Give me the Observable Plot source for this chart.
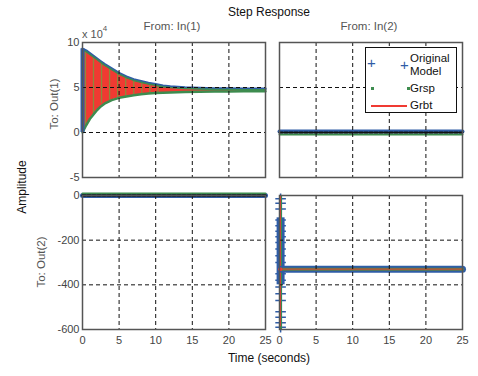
<!DOCTYPE html>
<html><head><meta charset="utf-8">
<script src="https://cdn.jsdelivr.net/npm/d3@7"></script>
<script src="https://cdn.jsdelivr.net/npm/@observablehq/plot@0.6"></script>
<style>
body{margin:0;background:#fff;}
#c{position:relative;width:478px;height:376px;overflow:hidden;font-family:"Liberation Sans",Arial,sans-serif;}
#c svg{position:absolute;left:0;top:0;overflow:visible;}
.t{position:absolute;white-space:nowrap;font-size:11px;color:#444;line-height:1;}
.rot{transform:translate(-50%,-50%) rotate(-90deg);}
.lg{position:absolute;left:365px;top:47px;width:90px;height:64px;border:1.5px solid #111;background:#fff;}
.lg span{position:absolute;white-space:nowrap;font-size:11.5px;color:#111;line-height:1;}
</style></head>
<body><div id="c"></div>
<script>
// ---------- data ----------
const timeTicks = [0, 5, 10, 15, 20, 25];
const gridTimes = [5, 10, 15, 20];
const yTicksTop = [-50000, 0, 50000, 100000];
const yTicksBottom = [-600, -400, -200, 0];

// Out(1) from In(1): envelope of the fast oscillation
const t11 = [0, 0.5, 1, 1.5, 2, 2.5, 3, 4, 5, 6, 7, 8, 9, 10, 11, 12, 14, 16, 18, 20, 22, 25];
const upper11 = [93000, 91000, 88000, 85000, 82000, 79000, 76000, 71000, 66000, 62000, 59000, 57000, 55000, 53500, 52000, 51000, 50000, 49500, 49000, 48800, 48500, 48500];
const lower11 = [0, 8000, 15000, 20000, 25000, 29000, 32000, 36000, 38500, 40000, 41500, 42500, 43200, 43800, 44200, 44500, 45000, 45200, 45500, 45600, 45700, 45800];
const spikeTimes11 = [0.4, 1.5, 2.6, 3.7, 4.8, 5.9, 7.0, 8.1, 9.2, 10.3];

// flat responses (Out(1) from In(2), Out(2) from In(1))
const tFlat = [0, 25];
const flat12 = [0, 0];
const flat21 = [0, 0];

// Out(2) from In(2)
const t22 = [0.3, 25];
const steady22 = [-330, -330];
const origSpan22 = [-598, -2];
const origCore22 = [-400, -100];
const grspSpan22 = [-600, 0];
const grbtSpan22 = [-588, -5];
const origPlus22 = [-15, -35, -60, -110, -135, -160, -185, -210, -240, -270, -300, -350, -380, -410, -440, -470, -520, -545, -570, -590];

const blue = "#2f5da6", green = "#3d8c4f", red = "#f03a32", olive = "#8c8a3c";

const root = document.getElementById("c");

function panel({box, yDomain, yTicks, yFmt, showX, showY, gridY, marks}) {
  const [l, t, r, b] = box;
  const all = [
    ...marks,
    Plot.gridX(gridTimes, {stroke: "#111", strokeOpacity: 1, strokeDasharray: "4,3"}),
    Plot.gridY(gridY, {stroke: "#111", strokeOpacity: 1, strokeDasharray: "4,3"}),
    Plot.frame({stroke: "#555", strokeWidth: 1.5})
  ];
  if (showX) all.push(Plot.axisX(timeTicks, {tickSize: 0, tickPadding: 7, fontSize: 11, fill: "#444", label: null}));
  if (showY) all.push(Plot.axisY(yTicks, {tickSize: 0, tickPadding: 3, tickFormat: yFmt, fontSize: 11, fill: "#444", label: null}));
  const svg = Plot.plot({
    width: 478, height: 376,
    marginLeft: l, marginRight: 478 - r, marginTop: t, marginBottom: 376 - b,
    x: {domain: [0, 25], label: null, ...(showX ? {} : {axis: null})},
    y: {domain: yDomain, label: null, ...(showY ? {} : {axis: null})},
    style: {background: "transparent", fontFamily: "Liberation Sans, Arial, sans-serif", fontSize: "11px", color: "#444"},
    marks: all
  });
  root.appendChild(svg);
}

const rows11 = t11.map((t, i) => ({t, lo: lower11[i], hi: upper11[i]}));
const envAt = (arr, x) => arr[Math.min(arr.length - 1, d3.bisectLeft(t11, x))];

// top-left
panel({
  box: [82, 42, 265, 177], yDomain: [-50000, 100000], yTicks: yTicksTop,
  yFmt: d => String(d / 10000), showX: false, showY: true, gridY: [0, 50000],
  marks: [
    Plot.areaY(rows11, {x: "t", y1: "lo", y2: "hi", fill: red}),
    Plot.ruleX(spikeTimes11, {x: d => d, y1: d => envAt(lower11, d), y2: d => envAt(upper11, d), stroke: olive, strokeWidth: 1.3}),
    Plot.line(rows11, {x: "t", y: "hi", stroke: blue, strokeWidth: 2.5}),
    Plot.line(rows11, {x: "t", y: "hi", stroke: green, strokeWidth: 1.5, dy: 1}),
    Plot.line(rows11, {x: "t", y: "lo", stroke: green, strokeWidth: 2.5}),
    Plot.ruleX([0], {y1: 0, y2: upper11[0], stroke: blue, strokeWidth: 4})
  ]
});

// top-right
const rows12 = tFlat.map((t, i) => ({t, v: flat12[i]}));
panel({
  box: [279, 42, 462, 177], yDomain: [-50000, 100000], yTicks: yTicksTop,
  showX: false, showY: false, gridY: [50000],
  marks: [
    Plot.line(rows12, {x: "t", y: "v", stroke: blue, strokeWidth: 4, dy: -1}),
    Plot.line(rows12, {x: "t", y: "v", stroke: green, strokeWidth: 2, dy: 2}),
    Plot.line(rows12, {x: "t", y: "v", stroke: "#111", strokeWidth: 2.2, strokeDasharray: "3,2"})
  ]
});

// bottom-left
const rows21 = tFlat.map((t, i) => ({t, v: flat21[i]}));
panel({
  box: [82, 195, 265, 329], yDomain: [-600, 0], yTicks: yTicksBottom,
  yFmt: d => String(d), showX: true, showY: true, gridY: [-400, -200],
  marks: [
    Plot.line(rows21, {x: "t", y: "v", stroke: blue, strokeWidth: 5}),
    Plot.line(rows21, {x: "t", y: "v", stroke: green, strokeWidth: 2, dy: -2}),
    Plot.line(rows21, {x: "t", y: "v", stroke: "#111", strokeWidth: 2.4, strokeDasharray: "3,2"})
  ]
});

// bottom-right
const steadyRows = t22.map((t, i) => ({t, v: steady22[i]}));
panel({
  box: [279, 195, 462, 329], yDomain: [-600, 0], yTicks: yTicksBottom,
  showX: true, showY: false, gridY: [-400, -200, 0],
  marks: [
    Plot.ruleX([0.15], {y1: origSpan22[0], y2: origSpan22[1], stroke: blue, strokeWidth: 3}),
    Plot.ruleX([0.15], {y1: origCore22[0], y2: origCore22[1], stroke: blue, strokeWidth: 8}),
    Plot.dot(origPlus22, {x: 0.15, y: d => d, symbol: "plus", r: 3.5, stroke: blue, strokeWidth: 1.5}),
    Plot.ruleX([0.2], {y1: grspSpan22[0], y2: grspSpan22[1], stroke: green, strokeWidth: 2}),
    Plot.ruleX([0.1], {y1: grbtSpan22[0], y2: grbtSpan22[1], stroke: red, strokeWidth: 1.5}),
    Plot.line(steadyRows, {x: "t", y: "v", stroke: blue, strokeWidth: 7}),
    Plot.line(steadyRows, {x: "t", y: "v", stroke: green, strokeWidth: 3}),
    Plot.line(steadyRows, {x: "t", y: "v", stroke: red, strokeWidth: 2, strokeOpacity: 0.6}),
    Plot.dot([steady22[0]], {x: 0.1, y: d => d, r: 2, fill: red})
  ]
});

// ---------- texts ----------
function txt(s, x, y, cls, extra) {
  const d = document.createElement("div");
  d.className = "t " + (cls || "");
  d.innerHTML = s;
  d.style.left = x + "px"; d.style.top = y + "px";
  if (!cls) d.style.transform = "translate(-50%,-50%)";
  Object.assign(d.style, extra || {});
  root.appendChild(d);
}
txt("Step Response", 269, 12, "", {color: "#111", fontSize: "12px"});
txt("From: In(1)", 172, 27, "", {color: "#555", fontSize: "11.5px"});
txt("From: In(2)", 369, 27, "", {color: "#555", fontSize: "11.5px"});
txt("x 10<sup style='font-size:8px;position:relative;top:-2px'>4</sup>", 82, 27, "nr", {color: "#555"});
txt("Amplitude", 22, 187, "rot", {color: "#111", fontSize: "12px"});
txt("To: Out(1)", 55, 104, "rot", {color: "#555", fontSize: "11.5px"});
txt("To: Out(2)", 42, 262, "rot", {color: "#555", fontSize: "11.5px"});
txt("Time (seconds)", 269, 358, "", {color: "#111", fontSize: "12px"});

// legend
const lg = document.createElement("div");
lg.className = "lg";
lg.innerHTML = `
<span style="left:1px;top:7px;color:${blue};font-size:15px">+</span>
<span style="left:34px;top:9px;color:${blue};font-size:15px">+</span>
<span style="left:44px;top:5px">Original</span>
<span style="left:44px;top:18px">Model</span>
<span style="left:5px;top:39px;width:3px;height:3px;background:${green}"></span>
<span style="left:41px;top:39px;width:3px;height:3px;background:${green}"></span>
<span style="left:44px;top:35px">Grsp</span>
<span style="left:5px;top:57px;width:36px;height:1.5px;background:${red}"></span>
<span style="left:44px;top:52px">Grbt</span>`;
root.appendChild(lg);
</script></body></html>
